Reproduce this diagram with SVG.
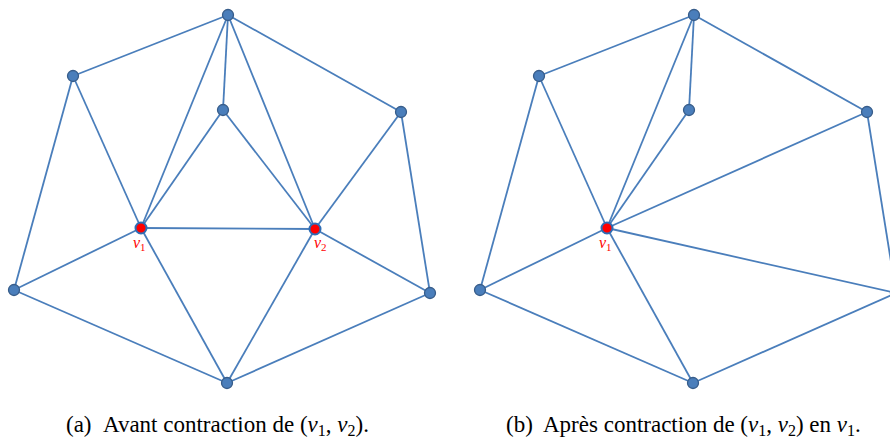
<svg xmlns="http://www.w3.org/2000/svg" width="890" height="438" viewBox="0 0 890 438">
<style>
.e{stroke:#4a7ebb;stroke-width:1.8;fill:none}
.n{fill:#4a7ebb;stroke:#385d8a;stroke-width:1.3}
.r{fill:#ff0000;stroke:#2e6db5;stroke-width:2}
.lab{font-family:"Liberation Serif",serif;font-style:italic;fill:#ff0000;font-size:16px}
.sub{font-style:normal;font-size:11px}
.cap{font-family:"Liberation Serif",serif;font-size:23px;fill:#000}
.it{font-style:italic}
.cs{font-size:16px}
</style>
<rect width="890" height="438" fill="#fff"/>
<g id="connectors">
<!-- graph a -->
<line class="e" x1="228" y1="15" x2="73" y2="76"/>
<line class="e" x1="228" y1="15" x2="223" y2="110"/>
<line class="e" x1="228" y1="15" x2="141" y2="228"/>
<line class="e" x1="228" y1="15" x2="315" y2="229"/>
<line class="e" x1="228" y1="15" x2="401" y2="112"/>
<line class="e" x1="73" y1="76" x2="141" y2="228"/>
<line class="e" x1="73" y1="76" x2="14" y2="290"/>
<line class="e" x1="223" y1="110" x2="141" y2="228"/>
<line class="e" x1="223" y1="110" x2="315" y2="229"/>
<line class="e" x1="401" y1="112" x2="315" y2="229"/>
<line class="e" x1="401" y1="112" x2="430" y2="293"/>
<line class="e" x1="141" y1="228" x2="315" y2="229"/>
<line class="e" x1="141" y1="228" x2="14" y2="290"/>
<line class="e" x1="141" y1="228" x2="227" y2="383"/>
<line class="e" x1="315" y1="229" x2="430" y2="293"/>
<line class="e" x1="315" y1="229" x2="227" y2="383"/>
<line class="e" x1="14" y1="290" x2="227" y2="383"/>
<line class="e" x1="227" y1="383" x2="430" y2="293"/>
<!-- graph b -->
<line class="e" x1="694" y1="15" x2="539" y2="76"/>
<line class="e" x1="694" y1="15" x2="689" y2="110"/>
<line class="e" x1="694" y1="15" x2="607" y2="228"/>
<line class="e" x1="694" y1="15" x2="867" y2="112"/>
<line class="e" x1="539" y1="76" x2="607" y2="228"/>
<line class="e" x1="539" y1="76" x2="480" y2="290"/>
<line class="e" x1="689" y1="110" x2="607" y2="228"/>
<line class="e" x1="607" y1="228" x2="867" y2="112"/>
<line class="e" x1="607" y1="228" x2="896" y2="293"/>
<line class="e" x1="607" y1="228" x2="480" y2="290"/>
<line class="e" x1="607" y1="228" x2="693" y2="383"/>
<line class="e" x1="867" y1="112" x2="896" y2="293"/>
<line class="e" x1="480" y1="290" x2="693" y2="383"/>
<line class="e" x1="693" y1="383" x2="896" y2="293"/>
</g>
<g id="a-top"><circle class="n" cx="228" cy="15" r="5.5"/></g>
<g id="a-ul"><circle class="n" cx="73" cy="76" r="5.5"/></g>
<g id="a-inner"><circle class="n" cx="223" cy="110" r="5.5"/></g>
<g id="a-ur"><circle class="n" cx="401" cy="112" r="5.5"/></g>
<g id="a-left"><circle class="n" cx="14" cy="290" r="5.5"/></g>
<g id="a-right"><circle class="n" cx="430" cy="293" r="5.5"/></g>
<g id="a-bottom"><circle class="n" cx="227" cy="383" r="5.5"/></g>
<g id="a-v1"><circle class="r" cx="141" cy="228" r="5.5"/><text class="lab" x="133" y="248">v<tspan class="sub" dy="3">1</tspan></text></g>
<g id="a-v2"><circle class="r" cx="315" cy="229" r="5.5"/><text class="lab" x="314" y="248">v<tspan class="sub" dy="3">2</tspan></text></g>
<g id="b-top"><circle class="n" cx="694" cy="15" r="5.5"/></g>
<g id="b-ul"><circle class="n" cx="539" cy="76" r="5.5"/></g>
<g id="b-inner"><circle class="n" cx="689" cy="110" r="5.5"/></g>
<g id="b-ur"><circle class="n" cx="867" cy="112" r="5.5"/></g>
<g id="b-left"><circle class="n" cx="480" cy="290" r="5.5"/></g>
<g id="b-right"><circle class="n" cx="896" cy="293" r="5.5"/></g>
<g id="b-bottom"><circle class="n" cx="693" cy="383" r="5.5"/></g>
<g id="b-v1"><circle class="r" cx="607" cy="228" r="5.5"/><text class="lab" x="599" y="248">v<tspan class="sub" dy="3">1</tspan></text></g>
<g id="captions">
<text class="cap" x="66" y="432">(a)</text>
<text class="cap" x="103" y="432">Avant contraction de (<tspan class="it">v</tspan><tspan class="cs" dy="4">1</tspan><tspan dy="-4">, </tspan><tspan class="it">v</tspan><tspan class="cs" dy="4">2</tspan><tspan dy="-4">).</tspan></text>
<text class="cap" x="506" y="432">(b)</text>
<text class="cap" x="543" y="432">Après contraction de (<tspan class="it">v</tspan><tspan class="cs" dy="4">1</tspan><tspan dy="-4">, </tspan><tspan class="it">v</tspan><tspan class="cs" dy="4">2</tspan><tspan dy="-4">) en </tspan><tspan class="it">v</tspan><tspan class="cs" dy="4">1</tspan><tspan dy="-4">.</tspan></text>
</g>
</svg>
